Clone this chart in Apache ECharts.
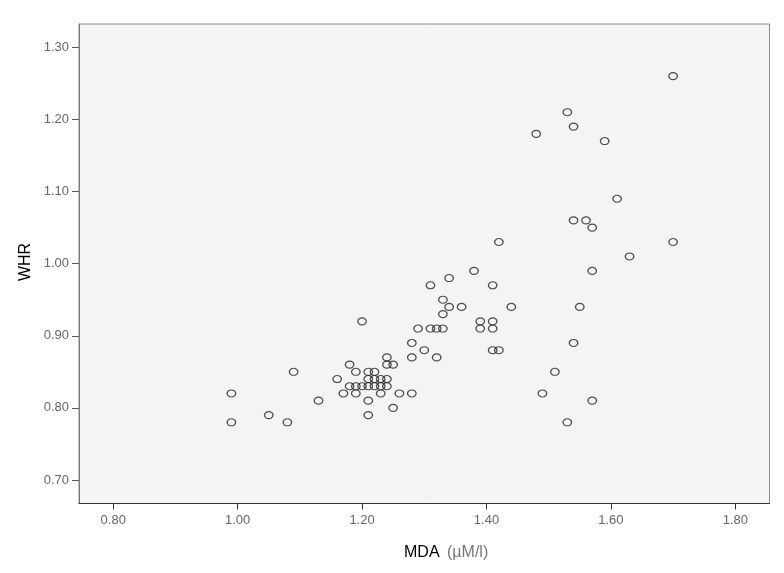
<!DOCTYPE html>
<html><head><meta charset="utf-8">
<script src="https://cdn.jsdelivr.net/npm/echarts@6/dist/echarts.min.js"></script>
<style>html,body{margin:0;padding:0;background:#fff}#c{width:784px;height:573px}</style>
</head><body><div id="c"></div>
<script>
const mdaValues = [0.99,0.99,1.05,1.08,1.09,1.13,1.16,1.17,1.18,1.18,1.19,1.19,1.19,1.20,1.20,1.21,1.21,1.21,1.21,1.21,
  1.22,1.22,1.22,1.23,1.23,1.23,1.24,1.24,1.24,1.24,1.25,1.25,1.26,1.28,1.28,1.28,1.29,1.30,1.31,1.31,
  1.32,1.32,1.33,1.33,1.33,1.34,1.34,1.36,1.38,1.39,1.39,1.41,1.41,1.41,1.41,1.42,1.42,1.44,1.48,1.49,
  1.51,1.53,1.53,1.54,1.54,1.54,1.55,1.56,1.57,1.57,1.57,1.59,1.61,1.63,1.70,1.70];
const whrValues = [0.82,0.78,0.79,0.78,0.85,0.81,0.84,0.82,0.86,0.83,0.85,0.83,0.82,0.92,0.83,0.85,0.84,0.83,0.81,0.79,
  0.85,0.84,0.83,0.84,0.83,0.82,0.87,0.86,0.84,0.83,0.86,0.80,0.82,0.89,0.87,0.82,0.91,0.88,0.97,0.91,
  0.91,0.87,0.95,0.93,0.91,0.98,0.94,0.94,0.99,0.92,0.91,0.97,0.92,0.91,0.88,1.03,0.88,0.94,1.18,0.82,
  0.85,1.21,0.78,1.19,1.06,0.89,0.94,1.06,1.05,0.99,0.81,1.17,1.09,1.01,1.26,1.03];
const xTickValues = [0.8,1.0,1.2,1.4,1.6,1.8];
const yTickValues = [0.7,0.8,0.9,1.0,1.1,1.2,1.3];
const xTitle = 'MDA';
const xUnit = '(µM/l)';
const yTitle = 'WHR';

const points = mdaValues.map((x, i) => [x, whrValues[i]]);
const font = '"Liberation Sans", Arial, sans-serif';
const chart = echarts.init(document.getElementById('c'), null, {renderer: 'canvas'});
chart.setOption({
  animation: false,
  backgroundColor: '#ffffff',
  grid: {left: 79, top: 24, width: 690.5, height: 479.5, show: true,
    backgroundColor: '#f4f4f4', borderColor: '#8a8a8a', borderWidth: 1},
  xAxis: {
    type: 'value', min: 0.745, max: 1.855,
    axisLine: {show: true, onZero: false, lineStyle: {color: '#333', width: 1}},
    axisTick: {show: true, customValues: xTickValues, length: 6, lineStyle: {color: '#333'}},
    axisLabel: {customValues: xTickValues, margin: 10, color: '#666', fontSize: 13, fontFamily: font,
      formatter: v => v.toFixed(2)},
    splitLine: {show: false}
  },
  yAxis: {
    type: 'value', min: 0.6674, max: 1.3323,
    axisLine: {show: true, onZero: false, lineStyle: {color: '#777', width: 1}},
    axisTick: {show: true, customValues: yTickValues, length: 7, lineStyle: {color: '#555'}},
    axisLabel: {customValues: yTickValues, margin: 10, color: '#666', fontSize: 13, fontFamily: font,
      formatter: v => v.toFixed(2)},
    splitLine: {show: false}
  },
  graphic: [
    {type: 'text', x: 404, y: 553,
      style: {text: xTitle, align: 'left', verticalAlign: 'middle', fontSize: 16, fontFamily: font, fill: '#000'}},
    {type: 'text', x: 447, y: 553,
      style: {text: xUnit, align: 'left', verticalAlign: 'middle', fontSize: 16, fontFamily: font, fill: '#777'}},
    {type: 'text', x: 26, y: 262, rotation: Math.PI / 2,
      style: {text: yTitle, align: 'center', verticalAlign: 'middle', fontSize: 16, fontFamily: font, fill: '#000'}}
  ],
  series: [{
    type: 'scatter',
    data: points,
    symbol: 'path://M0,5 A5,5 0 1,1 10,5 A5,5 0 1,1 0,5 Z',
    symbolSize: [8.5, 7],
    itemStyle: {color: 'rgba(0,0,0,0)', borderColor: '#222', borderWidth: 1.2},
    emphasis: {disabled: true}
  }]
});
</script>
</body></html>
